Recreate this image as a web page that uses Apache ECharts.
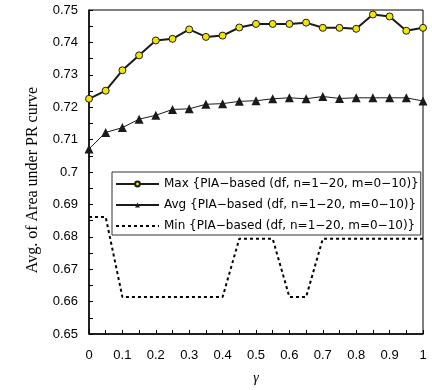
<!DOCTYPE html>
<html><head><meta charset="utf-8">
<script src="https://cdn.jsdelivr.net/npm/echarts@6/dist/echarts.min.js"></script>
<style>html,body{margin:0;padding:0;background:#fff}#c{width:432px;height:390px}</style>
</head><body><div id="c"></div>
<script>
const gammas = [0,0.05,0.1,0.15,0.2,0.25,0.3,0.35,0.4,0.45,0.5,0.55,0.6,0.65,0.7,0.75,0.8,0.85,0.9,0.95,1.0];
const maxVals = [0.7226,0.7251,0.7314,0.7360,0.7406,0.7411,0.7440,0.7417,0.7421,0.7446,0.7457,0.7457,0.7457,0.7461,0.7445,0.7445,0.7442,0.7486,0.7480,0.7436,0.7445];
const avgVals = [0.7071,0.7122,0.7137,0.7163,0.7175,0.7193,0.7195,0.7209,0.7211,0.7218,0.7220,0.7226,0.7229,0.7226,0.7233,0.7227,0.7229,0.7229,0.7229,0.7229,0.7219];
const minVals = [0.6861,0.6861,0.6614,0.6614,0.6614,0.6614,0.6614,0.6614,0.6614,0.6794,0.6794,0.6794,0.6614,0.6614,0.6794,0.6794,0.6794,0.6794,0.6794,0.6794,0.6794];
const seriesNames = ['Max {PIA\u2212based (df, n=1\u221220, m=0\u221210)}','Avg {PIA\u2212based (df, n=1\u221220, m=0\u221210)}','Min {PIA\u2212based (df, n=1\u221220, m=0\u221210)}'];
const yTitle = 'Avg. of Area under PR curve';
const xTitle = '\u03b3';

const pair = v => gammas.map((g,i)=>[g,v[i]]);
const chart = echarts.init(document.getElementById('c'));
const lab = {color:'#000', fontFamily:'Liberation Sans, Arial, sans-serif', fontSize:13};
chart.setOption({
  animation:false,
  grid:{left:89,right:9,top:10,bottom:54,show:true,borderColor:'#000',borderWidth:1},
  legend:{
    orient:'vertical', left:112, top:172, padding:[5,2,2,3], itemGap:7,
    itemWidth:43, itemHeight:6, backgroundColor:'#fff', borderColor:'#333', borderWidth:1,
    textStyle:{color:'#000', fontFamily:'DejaVu Sans, sans-serif', fontSize:12, lineHeight:14},
    data:seriesNames
  },
  xAxis:{type:'value', min:0, max:1, interval:0.05,
    name:xTitle, nameLocation:'middle', nameGap:37,
    nameTextStyle:{fontFamily:'Liberation Serif, Times New Roman, serif', fontStyle:'italic', fontSize:14, color:'#000'},
    axisLine:{lineStyle:{color:'#000',width:1.5}},
    axisTick:{inside:true,length:4,lineStyle:{color:'#000'}},
    splitLine:{show:false},
    axisLabel:Object.assign({margin:15, formatter:v=>{const r=Math.round(v*100);return r%10===0?String(r/100):'';}},lab)
  },
  yAxis:{type:'value', min:0.65, max:0.75, interval:0.005,
    name:yTitle, nameLocation:'middle', nameGap:48, nameRotate:90,
    nameTextStyle:{fontFamily:'Liberation Serif, Times New Roman, serif', fontSize:16, color:'#000', padding:[0,16,0,0]},
    axisLine:{lineStyle:{color:'#000',width:1.5}},
    axisTick:{inside:true,length:4,lineStyle:{color:'#000'}},
    splitLine:{show:false},
    axisLabel:Object.assign({margin:11, formatter:v=>{const r=Math.round(v*1000);return r%10===0?String(r/1000):'';}},lab)
  },
  series:[
    {name:seriesNames[0], type:'line', data:pair(maxVals), symbol:'circle', symbolSize:7,
     lineStyle:{color:'#1a1a1a',width:2}, itemStyle:{color:'#f2e600',borderColor:'#1a1a1a',borderWidth:1}, z:4},
    {name:seriesNames[1], type:'line', data:pair(avgVals), symbol:'triangle', symbolSize:9,
     lineStyle:{color:'#1a1a1a',width:1}, itemStyle:{color:'#1a1a1a'}, z:3},
    {name:seriesNames[2], type:'line', data:pair(minVals), symbol:'none',
     lineStyle:{color:'#000',width:2,type:[3,3]}, itemStyle:{color:'rgba(0,0,0,0)',borderWidth:0}, z:2}
  ]
});
</script></body></html>
